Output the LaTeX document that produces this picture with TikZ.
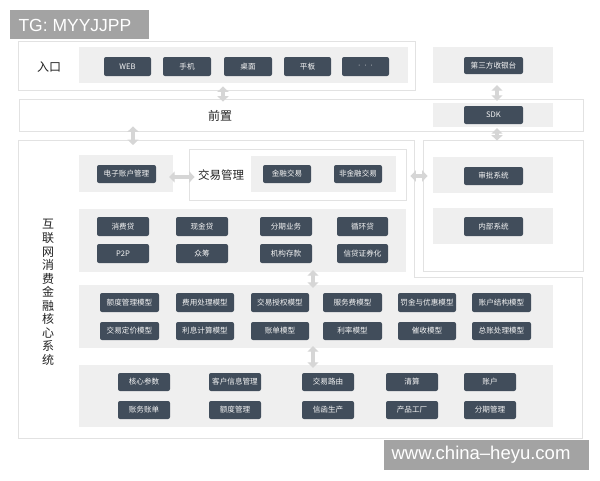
\documentclass[tikz,border=0pt]{standalone}
\usepackage{fontspec}
\setmainfont{Liberation Sans}
\newfontfamily\cjk{Noto Sans CJK SC}
\usetikzlibrary{arrows.meta}
\definecolor{btncol}{HTML}{414D5B}
\definecolor{areacol}{HTML}{EFEFEF}
\definecolor{framecol}{HTML}{E2E2E2}
\definecolor{arrcol}{HTML}{D6D6D6}
\definecolor{wmcol}{HTML}{A3A3A3}
\definecolor{labcol}{HTML}{222222}
\tikzset{
  btn/.style={fill=btncol, rounded corners=2pt, text=white!92!gray, inner sep=0pt, font=\cjk\fontsize{7.6}{8}\selectfont},
  area/.style={fill=areacol, inner sep=0pt},
  frame/.style={draw=framecol, line width=0.7pt, fill=white, inner sep=0pt},
  lab/.style={text=labcol, font=\cjk\fontsize{12}{13}\selectfont},
  wm/.style={fill=wmcol, text=white, inner sep=0pt, font=\fontsize{17.5}{18}\selectfont},
  dbl/.style={draw=arrcol, line width=4.5pt, {Triangle[width=11pt,length=5.5pt]}-{Triangle[width=11pt,length=5.5pt]}},
}
\newcommand\mkbox[7]{\node[#2, minimum width={(#5)-(#3)}, minimum height={(#6)-(#4)}] (#1) at ({((#3)+(#5))/2},{((#4)+(#6))/2}) {#7};}
\begin{document}
\begin{tikzpicture}[x=1pt,y=-1pt]
\useasboundingbox (0,0) rectangle (600,480);
\fill[white] (0,0) rectangle (600,480);
% frames
\mkbox{entry}{frame}{18}{41}{415}{90}{}
\mkbox{pre}{frame}{19}{99}{583}{131}{}
\draw[framecol, line width=0.7pt, fill=white] (18,140) -- (414,140) -- (414,277) -- (582,277) -- (582,438) -- (18,438) -- cycle;
\coordinate (mainnw) at (18,140);
\mkbox{rightfr}{frame}{423}{140}{583}{271}{}
% entry row
\mkbox{entryarea}{area}{79}{47}{408}{83}{}
\node[lab] (entrylab) at (49,67) {入口};
\mkbox{web}{btn}{104}{57}{151}{76}{WEB}
\mkbox{phone}{btn}{163}{57}{211}{76}{手机}
\mkbox{desk}{btn}{224}{57}{272}{76}{桌面}
\mkbox{pad}{btn}{284}{57}{331}{76}{平板}
\mkbox{more}{btn}{342}{57}{389}{76}{\rmfamily\fontsize{7}{8}\selectfont · \ · \ ·}
\node[lab] (prelab) at (220,116) {前置};
% right column
\mkbox{cashier}{area}{433}{47}{553}{83}{}
\mkbox{cashierb}{btn}{464}{57}{523}{74}{第三方收银台}
\mkbox{sdk}{area}{433}{103}{553}{127}{}
\mkbox{sdkb}{btn}{464}{106}{523}{124}{SDK}
\mkbox{approve}{area}{433}{157}{553}{193}{}
\mkbox{approveb}{btn}{464}{167}{523}{185}{审批系统}
\mkbox{inner}{area}{433}{208}{553}{244}{}
\mkbox{innerb}{btn}{464}{217}{523}{236}{内部系统}
% core: account + trade
\mkbox{eacc}{area}{79}{155}{173}{192}{}
\mkbox{eaccb}{btn}{97}{165}{156}{183}{电子账户管理}
\mkbox{trade}{frame}{189}{149}{406}{200}{}
\node[lab, font=\cjk\fontsize{11.5}{12}\selectfont] (tradelab) at (221,175) {交易管理};
\mkbox{tradearea}{area}{251}{156}{396}{192}{}
\mkbox{fin}{btn}{263}{165}{311}{183}{金融交易}
\mkbox{nonfin}{btn}{334}{165}{382}{183}{非金融交易}
% loans
\mkbox{loans}{area}{79}{209}{406}{272}{}
\mkbox{l1}{btn}{97}{217}{149}{236}{消费贷}
\mkbox{l2}{btn}{176}{217}{228}{236}{现金贷}
\mkbox{l3}{btn}{260}{217}{312}{236}{分期业务}
\mkbox{l4}{btn}{337}{217}{388}{236}{循环贷}
\mkbox{l5}{btn}{97}{244}{149}{263}{P2P}
\mkbox{l6}{btn}{176}{244}{228}{263}{众筹}
\mkbox{l7}{btn}{260}{244}{312}{263}{机构存款}
\mkbox{l8}{btn}{337}{244}{388}{263}{信贷证券化}
% models
\mkbox{models}{area}{79}{285}{553}{348}{}
\mkbox{m1}{btn}{100}{293}{159}{312}{额度管理模型}
\mkbox{m2}{btn}{176}{293}{234}{312}{费用处理模型}
\mkbox{m3}{btn}{251}{293}{309}{312}{交易授权模型}
\mkbox{m4}{btn}{323}{293}{382}{312}{服务费模型}
\mkbox{m5}{btn}{398}{293}{456}{312}{罚金与优惠模型}
\mkbox{m6}{btn}{472}{293}{531}{312}{账户结构模型}
\mkbox{m7}{btn}{100}{322}{159}{340}{交易定价模型}
\mkbox{m8}{btn}{176}{322}{234}{340}{利息计算模型}
\mkbox{m9}{btn}{251}{322}{309}{340}{账单模型}
\mkbox{m10}{btn}{323}{322}{382}{340}{利率模型}
\mkbox{m11}{btn}{398}{322}{456}{340}{催收模型}
\mkbox{m12}{btn}{472}{322}{531}{340}{总账处理模型}
% base
\mkbox{base}{area}{79}{365}{553}{427}{}
\mkbox{b1}{btn}{118}{373}{170}{391}{核心参数}
\mkbox{b2}{btn}{209}{373}{261}{391}{客户信息管理}
\mkbox{b3}{btn}{302}{373}{354}{391}{交易路由}
\mkbox{b4}{btn}{386}{373}{438}{391}{清算}
\mkbox{b5}{btn}{464}{373}{516}{391}{账户}
\mkbox{b6}{btn}{118}{401}{170}{419}{账务账单}
\mkbox{b7}{btn}{209}{401}{261}{419}{额度管理}
\mkbox{b8}{btn}{302}{401}{354}{419}{信函生产}
\mkbox{b9}{btn}{386}{401}{438}{419}{产品工厂}
\mkbox{b10}{btn}{464}{401}{516}{419}{分期管理}
% vertical label
\node[lab, align=center, font=\cjk\fontsize{12}{13.55}\selectfont] (corelab) at (48,292.5)
  {互\\联\\网\\消\\费\\金\\融\\核\\心\\系\\统};
% arrows
\coordinate (ax1) at (223,0);
\coordinate (ax2) at (133,0);
\coordinate (ax3) at (497,0);
\coordinate (ax4) at (313,0);
\coordinate (ay1) at (0,176);
\coordinate (ay2) at (0,177);
\draw[dbl, shorten <=-4pt, shorten >=-3pt] (entry.south -| ax1) -- (pre.north -| ax1);
\draw[dbl, shorten <=-5pt, shorten >=-5pt] (pre.south -| ax2) -- (mainnw -| ax2);
\draw[dbl, shorten <=2pt, shorten >=2pt] (cashier.south -| ax3) -- (sdk.north -| ax3);
\draw[dbl, shorten <=1pt, shorten >=-1pt] (sdk.south -| ax3) -- (rightfr.north -| ax3);
\draw[dbl, shorten <=4pt, shorten >=-5pt] (trade.east |- ay1) -- (rightfr.west |- ay1);
\draw[dbl, shorten <=-4pt, shorten >=-6pt] (eacc.east |- ay2) -- (trade.west |- ay2);
\draw[dbl, shorten <=-2pt, shorten >=-3pt] (loans.south -| ax4) -- (models.north -| ax4);
\draw[dbl, shorten <=-2pt, shorten >=-3pt] (models.south -| ax4) -- (base.north -| ax4);
% watermarks
\mkbox{wm1}{wm}{10}{10}{149}{39}{}
\node[text=white, font=\fontsize{17.5}{18}\selectfont, anchor=west] (wm1t) at (15,25) {TG: MYYJJPP};
\mkbox{wm2}{wm}{384}{440}{589}{470}{}
\node[text=white, font=\fontsize{18.5}{19}\selectfont, anchor=west] (wm2t) at (388,455) {www.china–heyu.com};
\end{tikzpicture}
\end{document}
